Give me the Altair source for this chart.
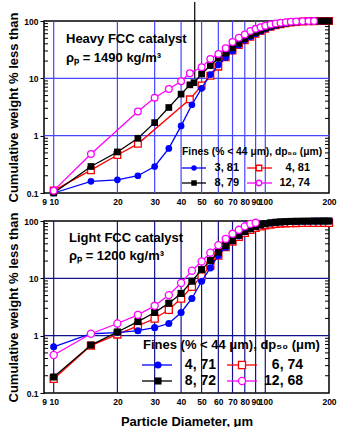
import altair as alt
import pandas as pd

# ---------------- data ----------------
TAIL = [65, 70, 75, 80, 85, 90, 95, 100, 106, 112, 118, 125, 132, 140, 150, 160, 170, 180, 190, 200]

# Heavy FCC catalyst
H_BLUE_D = [10, 15, 20, 25, 30, 35, 40, 45, 50, 55, 60] + TAIL
H_BLUE_V = [0.1, 0.16, 0.17, 0.2, 0.29, 0.6, 1.48, 3.46, 6.7, 11.6, 17.1,
            23, 30, 38, 46, 53, 60, 66.5, 72.5, 78.5, 83.5, 87.5, 91, 94, 96.5, 98, 99, 99.5, 99.8, 99.9, 100]
H_RED_D = [10, 15, 20, 25, 44, 50, 55, 60] + TAIL
H_RED_V = [0.11, 0.25, 0.46, 0.72, 4.3, 7.5, 11.1, 16,
           23.4, 30.6, 38, 46, 53, 60, 67, 73, 79, 84, 88, 91.5, 94, 96.5, 98, 99, 99.5, 99.8, 99.9, 100]
H_BLACK_D = [10, 15, 20, 25, 30, 35, 40, 44, 46, 50, 55, 60] + TAIL
H_BLACK_V = [0.1, 0.29, 0.52, 0.9, 1.69, 3.1, 5.3, 7.7, 8.4, 11.9, 16.7, 22.4,
             27.5, 34, 41, 49, 56, 63, 69, 75, 81, 85.5, 89, 92.5, 95, 97, 98.5, 99.3, 99.7, 99.9, 100, 100]
H_MAG_D = [10, 15, 25, 30, 35, 40, 44, 50, 55, 60, 65, 70, 75, 80, 85, 90, 95, 100, 106, 112, 118, 125, 132, 140, 150, 160, 170]
H_MAG_V = [0.11, 0.48, 2.64, 4.6, 6.5, 8.9, 12.3, 15.6, 21.8, 26.7, 33.6, 42.9, 50.9, 58.4, 66.8, 73, 78, 82.5,
           87, 90.5, 93.5, 95.5, 97, 98.3, 99.1, 99.6, 99.9]

# Light FCC catalyst
L_D = [10, 15, 20, 25, 30, 35, 40, 45, 50, 55, 60] + TAIL
L_BLUE_V = [0.64, 1.08, 1.13, 1.22, 1.38, 1.63, 2.54, 4.45, 8.9, 15.2, 25,
            35, 45, 55, 65, 73, 80, 85.5, 89.5, 92.5, 94.5, 96, 97, 98, 98.5, 99, 99.3, 99.5, 99.7, 99.8, 99.9]
L_RED_V = [0.176, 0.67, 1.05, 1.48, 1.99, 2.83, 4.45, 7.1, 10.8, 16.7, 25,
           35, 44, 53, 62, 70, 76, 81, 84.5, 87, 89, 90.5, 91.5, 92, 92.5, 92.8, 93, 93, 93, 93, 93]
L_BLACK_V = [0.19, 0.685, 1.16, 1.76, 2.54, 3.69, 5.45, 8.9, 14.2, 20.4, 28.6,
             37.5, 45.8, 56, 65.9, 73.3, 80, 86, 90, 93, 95, 96.5, 97.5, 98.3, 98.8, 99.2, 99.5, 99.7, 99.8, 99.9, 100]
L_MAG_D = [10, 15, 20, 25, 30, 35, 40, 45, 50, 55, 60, 65, 70, 75, 80, 85, 90]
L_MAG_V = [0.46, 1.08, 1.63, 2.31, 3.32, 5.1, 8.3, 13.6, 19.7, 28, 38, 48.9, 59.8, 70.3, 80.7, 89, 93]

H_LABELS = ["3,  81", "4,  81", "8,  79", "12,  74"]
L_LABELS = ["4,  71", "6,  74", "8,  72", "12,  68"]

GRID_X = [10, 20, 30, 40, 50, 60, 70, 80, 90, 100]
GRID_Y = [1, 10]
X_TICKS = [9, 10, 20, 30, 40, 50, 60, 70, 80, 90, 100, 200]
Y_TICKS = [0.1, 1, 10, 100]
MINOR_Y = [0.2, 0.3, 0.4, 0.5, 0.6, 0.7, 0.8, 0.9, 2, 3, 4, 5, 6, 7, 8, 9, 20, 30, 40, 50, 60, 70, 80, 90]
MARK_LINE_X = [46.4]

# ---------------- layout ----------------
W, H = 285, 172
FONT = "Liberation Sans"
BLUE, RED, BLACK, MAG = "#0000ff", "#ff0000", "#000000", "#ff00ff"

xs = alt.Scale(type="log", domain=[9, 200], nice=False)
ys = alt.Scale(type="log", domain=[0.1, 100], nice=False)
one = alt.Data(values=[{}])


def make_axes(show_xtitle):
    ax = alt.Axis(values=X_TICKS, format="~g", labelFont=FONT, labelFontSize=8.5,
                  labelFontWeight="bold", labelColor="black", ticks=False, labelPadding=4,
                  domain=False, grid=False, labelOverlap=False, labelFlush=False,
                  title="Particle Diameter,  μm" if show_xtitle else "",
                  titleFont=FONT, titleFontSize=13, titleFontWeight="bold", titleColor="black",
                  titleX=W / 2, titleY=28, titleBaseline="middle", titleAnchor="middle")
    ay = alt.Axis(values=Y_TICKS, format="~g", labelFont=FONT, labelFontSize=8.5,
                  labelFontWeight="bold", labelColor="black", tickSize=4, tickColor="black",
                  labelPadding=2, domain=False, grid=False,
                  title="Cumulative weight % less than", titleFont=FONT, titleFontSize=13,
                  titleFontWeight="bold", titleColor="black", titleX=-31, titleY=H / 2,
                  titleBaseline="middle", titleAngle=-90)
    return ax, ay


def series_layers(d, v, color, shape, filled, size, ax, ay):
    df = pd.DataFrame({"d": d, "v": v})
    base = alt.Chart(df).encode(
        x=alt.X("d:Q", scale=xs, axis=ax),
        y=alt.Y("v:Q", scale=ys, axis=ay),
    )
    line = base.mark_line(color=color, strokeWidth=1.3)
    if filled:
        pts = base.mark_point(shape=shape, filled=True, color=color, size=size, opacity=1)
    else:
        pts = base.mark_point(shape=shape, filled=True, fill="white", stroke=color,
                              strokeWidth=1.3, size=size, opacity=1)
    return [line, pts]


def text_layer(txt, x, y, size, align="left"):
    return alt.Chart(one).mark_text(text=txt, font=FONT, fontSize=size, fontWeight="bold",
                                    align=align, baseline="middle", color="black").encode(
        x=alt.value(x), y=alt.value(y))


def legend_entry(color, shape, filled, size, x0, x1, xm, y, label, xt, fsize):
    rule = alt.Chart(one).mark_rule(color=color, strokeWidth=1.3).encode(
        x=alt.value(x0), x2=alt.value(x1), y=alt.value(y))
    if filled:
        pt = alt.Chart(one).mark_point(shape=shape, filled=True, color=color, size=size, opacity=1)
    else:
        pt = alt.Chart(one).mark_point(shape=shape, filled=True, fill="white", stroke=color,
                                       strokeWidth=1.3, size=size, opacity=1)
    pt = pt.encode(x=alt.value(xm), y=alt.value(y))
    return [rule, pt, text_layer(label, xt, y, fsize, align="right")]


def panel(series, labels, grid_color, title1, title2, tpos, leg, show_xtitle, with_marker_line=False):
    ax, ay = make_axes(show_xtitle)
    gx = alt.Chart(pd.DataFrame({"gx": GRID_X})).mark_rule(color=grid_color, strokeWidth=1.2).encode(
        x=alt.X("gx:Q", scale=xs, axis=ax))
    gy = alt.Chart(pd.DataFrame({"gy": GRID_Y})).mark_rule(color=grid_color, strokeWidth=1.2).encode(
        y=alt.Y("gy:Q", scale=ys, axis=ay))
    mdf = pd.DataFrame({"m": MINOR_Y})
    minor_l = alt.Chart(mdf).mark_rule(color="black", strokeWidth=1).encode(
        y=alt.Y("m:Q", scale=ys, axis=ay), x=alt.value(0), x2=alt.value(4))
    minor_r = alt.Chart(mdf).mark_rule(color="black", strokeWidth=1).encode(
        y=alt.Y("m:Q", scale=ys, axis=ay), x=alt.value(W - 4), x2=alt.value(W))

    layers = [gx, gy, minor_l, minor_r]
    if with_marker_line:
        layers.append(alt.Chart(pd.DataFrame({"x": MARK_LINE_X, "y": [10]})).mark_rule(
            color="black", strokeWidth=1.2, clip=False).encode(
            x=alt.X("x:Q", scale=xs, axis=ax), y=alt.Y("y:Q", scale=ys, axis=ay), y2=alt.value(-19)))
    # draw order: red, blue, black, magenta
    styles = [(BLUE, "circle", True), (RED, "square", False), (BLACK, "square", True), (MAG, "circle", False)]
    size = leg["msize"]
    for idx in [1, 0, 2, 3]:
        d, v = series[idx]
        c, s, f = styles[idx]
        layers += series_layers(d, v, c, s, f, size, ax, ay)

    layers.append(text_layer(title1, tpos[0], tpos[1], 13))
    layers.append(text_layer(title2, tpos[0], tpos[2], 13))
    layers.append(text_layer("Fines (% < 44 μm),  dp₅₀ (μm)", leg["hx"], leg["hy"], leg["hs"]))
    for i, (c, s, f) in enumerate(styles):
        col, row = i % 2, i // 2
        lx0, lx1, lxm, ltx = leg["cols"][col]
        layers += legend_entry(c, s, f, leg["lsize"], lx0, lx1, lxm, leg["rows"][row],
                               labels[i], ltx, leg["fs"])
    return alt.layer(*layers).properties(width=W, height=H)


top = panel(
    [(H_BLUE_D, H_BLUE_V), (H_RED_D, H_RED_V), (H_BLACK_D, H_BLACK_V), (H_MAG_D, H_MAG_V)],
    H_LABELS, "#4646ff", "Heavy FCC catalyst", "ρₚ = 1490 kg/m³", (22, 17.5, 37),
    dict(hx=138, hy=131, hs=10.3, rows=[147, 162], fs=11, msize=45, lsize=30,
         cols=[(138, 162, 150, 195), (203, 228, 215, 266)]),
    False, with_marker_line=True)

bottom = panel(
    [(L_D, L_BLUE_V), (L_D, L_RED_V), (L_D, L_BLACK_V), (L_MAG_D, L_MAG_V)],
    L_LABELS, "#12128c", "Light FCC catalyst", "ρₚ = 1200 kg/m³", (25, 16.5, 35),
    dict(hx=99, hy=123.5, hs=13, rows=[144, 160], fs=14, msize=50, lsize=50,
         cols=[(98, 128, 114, 172), (183, 213, 198, 259)]),
    True)

chart = alt.vconcat(top, bottom, spacing=28, bounds="flush").properties(
    padding={"left": 6, "top": 0, "right": 0, "bottom": 0},
).configure_view(stroke="black", strokeWidth=1.5)

chart.save("out.html", embed_options={"renderer": "svg", "actions": False})
